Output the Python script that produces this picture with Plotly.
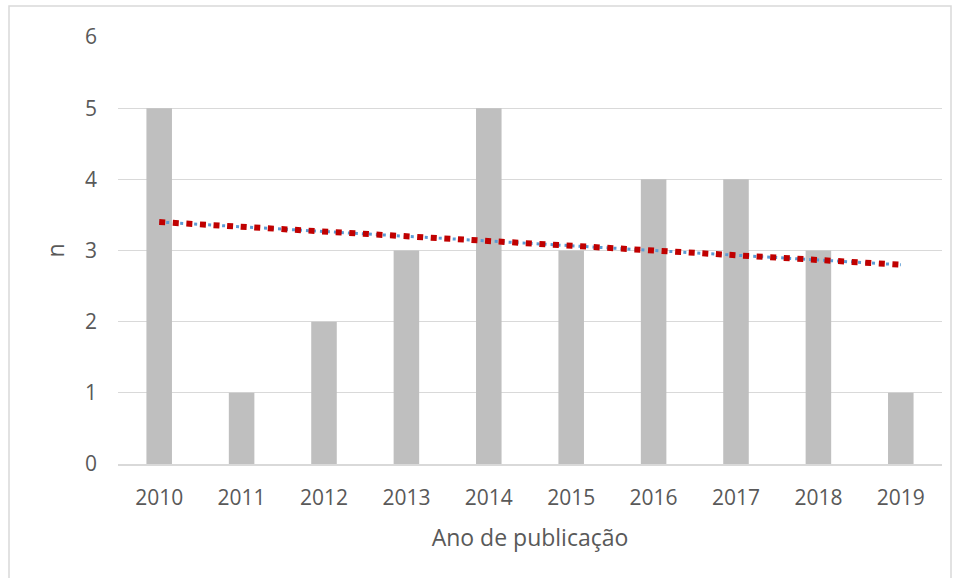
import plotly.graph_objects as go

years = ["2010", "2011", "2012", "2013", "2014", "2015", "2016", "2017", "2018", "2019"]
counts = [5, 1, 2, 3, 5, 3, 4, 4, 3, 1]
trend_years = ["2010", "2019"]
trend_values = [3.4, 2.8]

L, R, T, B = 118, 18, 37, 114
W, H = 960, 578
pw, ph = W - L - R, H - T - B
plot_bottom = H - B

fig = go.Figure()
fig.add_trace(go.Bar(x=years, y=counts, marker=dict(color="#bfbfbf", line=dict(width=0)),
                     showlegend=False, hoverinfo="x+y"))
fig.add_trace(go.Scatter(x=trend_years, y=trend_values, mode="lines",
                         line=dict(color="#5b9bd5", width=3, dash="3px,4px"), showlegend=False))
fig.add_trace(go.Scatter(x=trend_years, y=trend_values, mode="lines",
                         line=dict(color="#c00000", width=6, dash="6px,7.6px"), showlegend=False))

font = "'Open Sans', sans-serif"
fig.update_layout(
    width=W, height=H,
    margin=dict(l=L, r=R, t=T, b=B),
    paper_bgcolor="white", plot_bgcolor="white",
    bargap=0.69,
    font=dict(family=font, color="#595959", size=21),
    xaxis=dict(type="category", showgrid=False, showline=True, linecolor="#d9d9d9", linewidth=1.5,
               ticks="", ticklabelstandoff=14, tickfont=dict(size=21, color="#595959"),
               title=dict(text="Ano de publicação", font=dict(size=23, color="#595959"), standoff=20)),
    yaxis=dict(range=[0, 6], dtick=1, showgrid=True, gridcolor="#d9d9d9", gridwidth=1,
               zeroline=False, showline=False, ticks="", ticklabelstandoff=20,
               tickfont=dict(size=21, color="#595959"),
               title=dict(text="n", font=dict(size=23, color="#595959"), standoff=13)),
)
fig.add_shape(type="rect", xref="paper", yref="paper",
              x0=(9 - L) / pw, x1=(951 - L) / pw, y0=(plot_bottom - 590) / ph,
              y1=(plot_bottom - 6) / ph, line=dict(color="#d9d9d9", width=1.5), layer="below")
fig.write_html("out.html", config={"displayModeBar": False},
               post_script="document.body.style.margin='0';")
